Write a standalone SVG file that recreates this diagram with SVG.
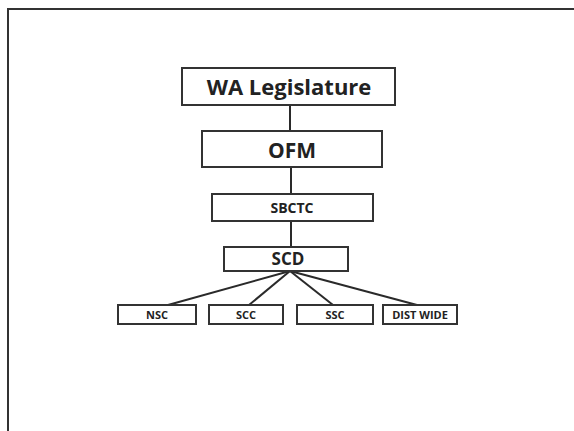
<svg xmlns="http://www.w3.org/2000/svg" width="574" height="431" viewBox="0 0 574 431">
<style>
.box{fill:#fff;stroke:#333;stroke-width:2}
.t{font-family:"Open Sans","Liberation Sans",sans-serif;font-weight:bold;fill:#222;text-anchor:middle}
.c{stroke:#2a2a2a;stroke-width:2;fill:none}
</style>
<rect width="574" height="431" fill="#fff"/>
<path d="M8,431 V9 H574" stroke="#333" stroke-width="2" fill="none"/>
<g id="connectors">
<line class="c" x1="290" y1="105" x2="290" y2="131"/>
<line class="c" x1="291" y1="167" x2="291" y2="194"/>
<line class="c" x1="291" y1="221" x2="291" y2="247"/>
<line class="c" x1="290" y1="271" x2="168" y2="305"/>
<line class="c" x1="290" y1="271" x2="249" y2="305"/>
<line class="c" x1="290" y1="271" x2="333" y2="305"/>
<line class="c" x1="290" y1="271" x2="417" y2="305"/>
</g>
<g id="wa"><rect class="box" x="182" y="68" width="213" height="37"/><text class="t" x="289" y="95" font-size="22">WA Legislature</text></g>
<g id="ofm"><rect class="box" x="202" y="131" width="180" height="36"/><text class="t" x="292" y="158" font-size="21">OFM</text></g>
<g id="sbctc"><rect class="box" x="212" y="194" width="161" height="27"/><text class="t" x="292" y="213" font-size="14">SBCTC</text></g>
<g id="scd"><rect class="box" x="224" y="247" width="124" height="24"/><text class="t" x="288" y="265" font-size="17">SCD</text></g>
<g id="nsc"><rect class="box" x="118" y="305" width="78" height="19"/><text class="t" x="157" y="319" font-size="11">NSC</text></g>
<g id="scc"><rect class="box" x="209" y="305" width="74" height="19"/><text class="t" x="246" y="319" font-size="11">SCC</text></g>
<g id="ssc"><rect class="box" x="297" y="305" width="76" height="19"/><text class="t" x="335" y="319" font-size="11">SSC</text></g>
<g id="dist"><rect class="box" x="383" y="305" width="74" height="19"/><text class="t" x="420" y="319" font-size="11">DIST WIDE</text></g>
</svg>
